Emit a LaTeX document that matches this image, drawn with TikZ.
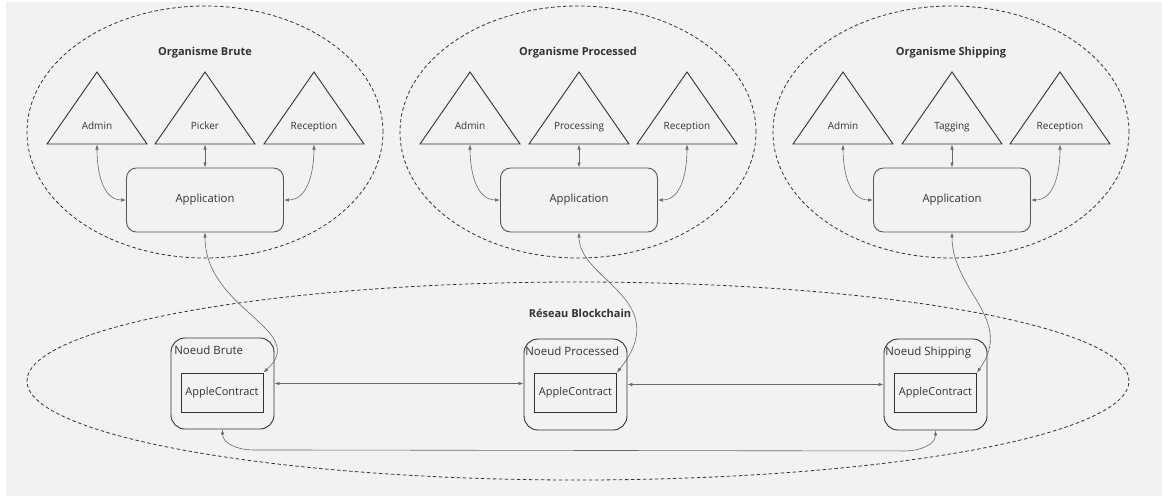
\documentclass[tikz,border=0pt]{standalone}
\usepackage{fontspec}
\setmainfont{Open Sans}
\usetikzlibrary{shapes.geometric,arrows.meta,calc}
\definecolor{bg}{HTML}{F2F2F2}
\definecolor{ink}{HTML}{333333}
\definecolor{boxc}{HTML}{555555}
\definecolor{conn}{HTML}{6A6A6A}
\begin{document}
\begin{tikzpicture}[x=1pt,y=1pt,
  dashell/.style={ellipse, draw=ink, dash pattern=on 3.5pt off 2.5pt, line width=0.8pt, inner sep=0pt},
  titlelbl/.style={font=\bfseries\fontsize{11}{13}\selectfont, text=ink, anchor=base, inner sep=0pt},
  role/.style={draw=ink, line width=0.9pt, line join=miter},
  rolelbl/.style={font=\fontsize{10}{12}\selectfont, text=ink, anchor=base, inner sep=0pt},
  appbox/.style={draw=boxc, line width=0.9pt, rounded corners=10pt, minimum width=157pt, minimum height=64pt, inner sep=0pt, font=\fontsize{11.3}{13}\selectfont, text=ink},
  noeud/.style={draw=ink, line width=0.9pt, rounded corners=14pt, minimum width=103pt, minimum height=91pt, inner sep=0pt},
  contract/.style={draw=ink, line width=0.8pt, minimum width=82pt, minimum height=39pt, inner sep=0pt, font=\fontsize{11}{13}\selectfont, text=ink},
  noeudlbl/.style={font=\fontsize{11.5}{13}\selectfont, text=ink, anchor=base west, inner sep=0pt},
  link/.style={draw=conn, line width=0.6pt, {Latex[length=5pt,width=3.5pt]}-{Latex[length=5pt,width=3.5pt]}}
]
\useasboundingbox (0,0) rectangle (1162,-496);
\fill[white] (0,0) rectangle (1162,-496);
\fill[bg] (6,-2) rectangle (1162,-496);

% organisations
\foreach \cx/\ac/\id/\title/\mid in {205/205/B/{Organisme Brute}/Picker, 578/579/P/{Organisme Processed}/Processing, 951/952/S/{Organisme Shipping}/Tagging} {
  \node[dashell, minimum width=356pt, minimum height=252pt] (org\id) at (\cx,-132) {};
  \node[titlelbl] (title\id) at (\cx,-55.5) {\title};
  % triangles
  \draw[role] (\cx-108,-72) -- (\cx-158,-144) -- (\cx-58,-144) -- cycle;
  \draw[role] (\ac,-72) -- (\ac-50,-144) -- (\ac+50,-144) -- cycle;
  \draw[role] (\cx+109,-72) -- (\cx+59,-144) -- (\cx+159,-144) -- cycle;
  \node[rolelbl] (adm\id) at (\cx-108,-129) {Admin};
  \node[rolelbl] (mid\id) at (\ac,-129) {\mid};
  \node[rolelbl] (rec\id) at (\cx+109,-129) {Reception};
  \coordinate (admb\id) at (\cx-108,-144.5);
  \coordinate (midb\id) at (\ac,-144.5);
  \coordinate (recb\id) at (\cx+109,-144.5);
  \node[appbox] (app\id) at (\ac,-200) {Application};
  \draw[link] (admb\id) to[out=-90,in=180] (app\id.west);
  \draw[link] (midb\id) -- (app\id.north);
  \draw[link] (recb\id) to[out=-90,in=0] (app\id.east);
}

% blockchain network
\node[dashell, minimum width=1102pt, minimum height=198pt] (net) at (578,-381) {};
\node[titlelbl] (nettitle) at (580,-317) {Réseau Blockchain};

\node[noeud] (nB) at (222.5,-383.5) {};
\node[noeud] (nP) at (575.5,-384.5) {};
\node[noeud] (nS) at (935.5,-384.5) {};
\node[noeudlbl] (lB) at ($(nB.north west)+(3.5,-17)$) {Noeud Brute};
\node[noeudlbl] (lP) at ($(nP.north west)+(1.5,-17)$) {Noeud Processed};
\node[noeudlbl] (lS) at ($(nS.north west)+(1.5,-17)$) {Noeud Shipping};
\node[contract] (cB) at (222,-392.5) {AppleContract};
\node[contract] (cP) at (575.5,-392.5) {AppleContract};
\node[contract] (cS) at (935.5,-392.5) {AppleContract};

% links between nodes
\draw[link] (nB.east) -- (nB.east -| nP.west);
\draw[link] (nP.east) -- (nS.west);
\draw[link] (nB.south) to[out=-90,in=180] ($(nB.south)+(30,-20.5)$) -- ($(nS.south)+(-30,-20.5)$) to[out=0,in=-90] (nS.south);

% applications to contracts
\draw[link] (appB.south) .. controls ($(appB.south)+(0,-78)$) and ($(cB.north east)+(47,43)$) .. (cB.north east);
\draw[link] (appP.south) .. controls ($(appP.south)+(0,-48)$) and ($(cP.north east)+(58,73)$) .. (cP.north east);
\draw[link] (appS.south) .. controls ($(appS.south)+(0,-58)$) and ($(cS.north east)+(38,53)$) .. (cS.north east);
\end{tikzpicture}
\end{document}
